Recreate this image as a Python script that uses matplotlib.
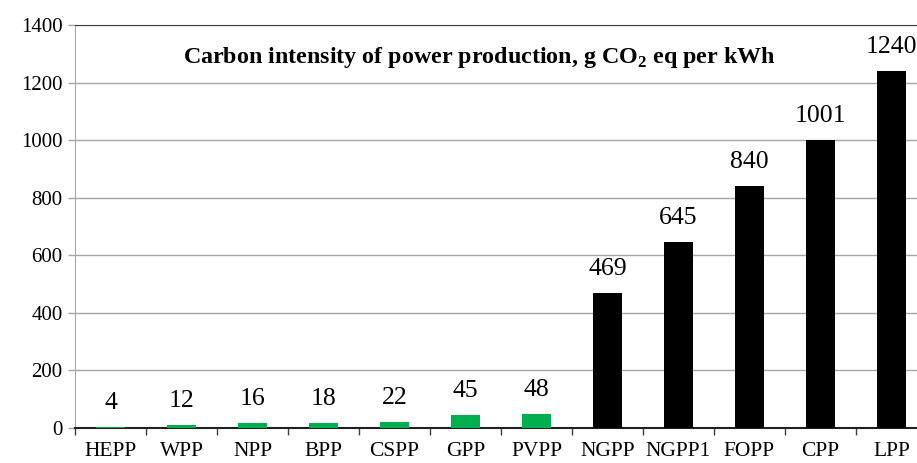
import matplotlib.pyplot as plt
import numpy as np

plt.rcParams['font.family'] = ['Liberation Serif', 'DejaVu Serif']
plt.rcParams['mathtext.fontset'] = 'custom'
plt.rcParams['mathtext.rm'] = 'Liberation Serif'
plt.rcParams['mathtext.bf'] = 'Liberation Serif:bold'

# carbon intensity, g CO2 eq per kWh
plants = ["HEPP", "WPP", "NPP", "BPP", "CSPP", "GPP", "PVPP",
          "NGPP", "NGPP1", "FOPP", "CPP", "LPP"]
values = [4, 12, 16, 18, 22, 45, 48, 469, 645, 840, 1001, 1240]
low_carbon = [True] * 7 + [False] * 5

fig = plt.figure(figsize=(9.17, 4.63), dpi=100)
ax = fig.add_axes([75 / 917, 35 / 463, 852 / 917, 403 / 463])

x = np.arange(len(plants))
colors = ["#00B050" if g else "#000000" for g in low_carbon]
ax.bar(x, values, width=0.41, color=colors, zorder=3)

for xi, v in zip(x, values):
    ax.text(xi, v + 45, str(v), ha="center", va="bottom", fontsize=18.5)

ax.set_xlim(-0.5, len(plants) - 0.5)
ax.set_ylim(0, 1400)
ax.set_yticks(np.arange(0, 1401, 200))
ax.yaxis.grid(True, color="#A6A6A6", linewidth=1, zorder=0)

# labels at centres, tick marks at category boundaries
ax.set_xticks(np.arange(-0.5, len(plants), 1.0))
ax.set_xticklabels([])
ax.set_xticks(x, minor=True)
ax.set_xticklabels(plants, minor=True)
ax.tick_params(axis="x", which="major", length=5, width=1, color="#404040", direction="out")
ax.tick_params(axis="x", which="minor", length=0, labelsize=15.5, pad=10)
ax.tick_params(axis="y", length=5, width=1, color="#A6A6A6", labelsize=15, pad=4)

ax.spines["right"].set_visible(False)
ax.spines["top"].set_color("#404040")
ax.spines["left"].set_color("#A6A6A6")
ax.spines["bottom"].set_color("#202020")
ax.spines["bottom"].set_linewidth(1.5)

fig.text(479 / 917, 1 - 57 / 463,
         r"Carbon intensity of power production, g CO$_\mathbf{2}$ eq per kWh",
         ha="center", va="center", fontsize=17.3, fontweight="bold")

fig.savefig("out.png", dpi=100)
